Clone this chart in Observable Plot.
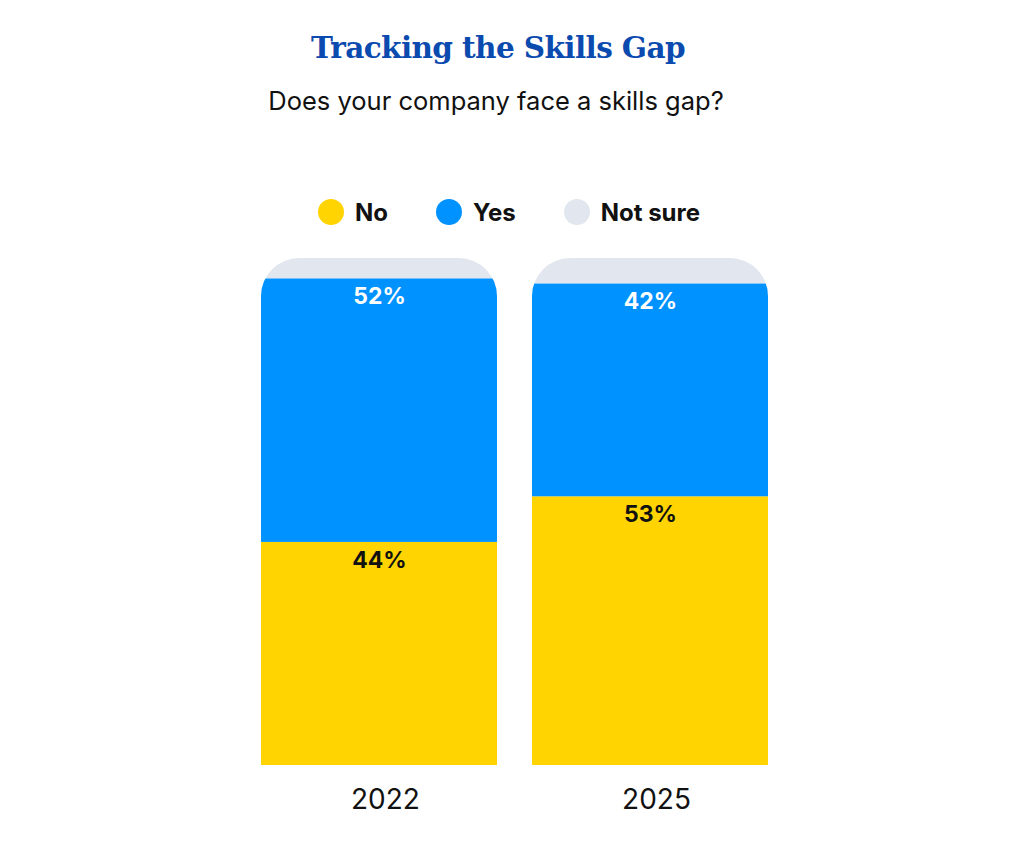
<!DOCTYPE html>
<html>
<head>
<meta charset="utf-8">
<script src="https://cdn.jsdelivr.net/npm/d3@7"></script>
<script src="https://cdn.jsdelivr.net/npm/@observablehq/plot@0.6"></script>
<style>
  html, body { margin: 0; padding: 0; background: #fff; }
  body { width: 1024px; height: 843px; position: relative; overflow: hidden; font-family: Inter, "Noto Sans", sans-serif; }
  .abs { position: absolute; white-space: nowrap; }
  #title { top: 28px; left: -14px; width: 1024px; height: 40px; line-height: 40px; text-align: center;
           font-family: "DejaVu Serif", serif; font-size: 29.5px; font-weight: 700; color: #0b4aae; letter-spacing: -0.6px; }
  #subtitle { top: 86px; left: -16px; width: 1024px; height: 30px; line-height: 30px; text-align: center;
              font-size: 25.5px; color: #111; }
  #legend { top: 196px; left: -3px; width: 1024px; height: 32px; display: flex; justify-content: center; align-items: center; gap: 0; }
  .item { display: flex; align-items: center; font-size: 24px; font-weight: 700; color: #111; margin: 0 24px; }
  .sw { width: 26px; height: 26px; border-radius: 50%; margin-right: 11px; }
  #chart { top: 240px; left: 0; }
</style>
</head>
<body>
<div id="title" class="abs">Tracking the Skills Gap</div>
<div id="subtitle" class="abs">Does your company face a skills gap?</div>
<div id="legend" class="abs"></div>
<div id="chart" class="abs"></div>
<script>
const years = ["2022", "2025"];
const categories = ["No", "Yes", "Not sure"];
const noValues = [44, 53];
const yesValues = [52, 42];
const notSureValues = [4, 5];
const colors = ["#FFD400", "#0092FF", "#E2E7EF"];
const labelColors = ["#111111", "#ffffff", null];

const seriesValues = [noValues, yesValues, notSureValues];
const data = [];
categories.forEach((c, ci) => {
  years.forEach((y, yi) => {
    data.push({year: y, category: c, value: seriesValues[ci][yi], label: labelColors[ci] ? seriesValues[ci][yi] + "%" : "", labelColor: labelColors[ci]});
  });
});

// legend
const legend = document.getElementById("legend");
categories.forEach((c, i) => {
  const it = document.createElement("div");
  it.className = "item";
  const sw = document.createElement("span");
  sw.className = "sw";
  sw.style.background = colors[i];
  it.appendChild(sw);
  it.appendChild(document.createTextNode(c));
  legend.appendChild(it);
});

const W = 1024, H = 598;
const plot = Plot.plot({
  width: W,
  height: H,
  marginLeft: 261,
  marginRight: 256,
  marginTop: 18,
  marginBottom: 73,
  style: {fontFamily: "Inter, 'Noto Sans', sans-serif", background: "transparent", overflow: "visible"},
  x: {domain: years, paddingInner: 35 / 271, paddingOuter: 0, label: null},
  y: {domain: [0, 100], axis: null},
  color: {domain: categories, range: colors},
  marks: [
    Plot.barY(data, Plot.stackY({x: "year", y: "value", fill: "category", z: "category", order: categories, inset: 0})),
    Plot.text(data.filter(d => d.label), Plot.stackY2({x: "year", y: "value", z: "category", order: categories, text: "label", fill: "labelColor", dy: 18, fontSize: 23, fontWeight: 700, lineAnchor: "middle"})),
    Plot.axisX({tickSize: 0, tickPadding: 24, fontSize: 28, dx: 6, color: "#111", label: null})
  ]
});
document.getElementById("chart").appendChild(plot);

// clip each stacked bar to a rounded-top shape derived from the scales
const xs = plot.scale("x"), ys = plot.scale("y");
const svg = d3.select(plot);
const defs = svg.insert("defs", ":first-child");
const cp = defs.append("clipPath").attr("id", "roundTop");
const r = 38;
years.forEach(y => {
  const x0 = xs.apply(y);
  const top = ys.apply(100), bottom = ys.apply(0);
  cp.append("rect").attr("x", x0).attr("y", top).attr("width", xs.bandwidth)
    .attr("height", bottom - top + r).attr("rx", r).attr("ry", r);
});
const cp2 = defs.append("clipPath").attr("id", "flatBottom");
cp2.append("rect").attr("x", 0).attr("y", 0).attr("width", W).attr("height", ys.apply(0));
svg.selectAll("g[aria-label='bar']").attr("clip-path", "url(#roundTop)")
  .each(function() {
    const g = this;
    const wrap = document.createElementNS("http://www.w3.org/2000/svg", "g");
    wrap.setAttribute("clip-path", "url(#flatBottom)");
    g.parentNode.insertBefore(wrap, g);
    wrap.appendChild(g);
  });
</script>
</body>
</html>
